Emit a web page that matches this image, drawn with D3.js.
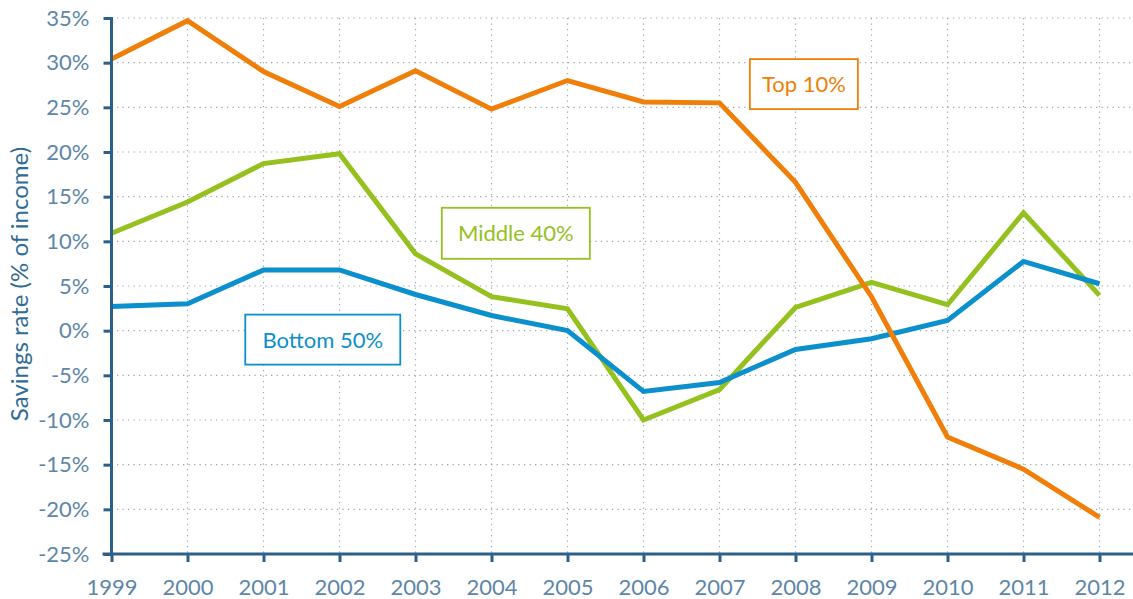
<!DOCTYPE html>
<html>
<head>
<meta charset="utf-8">
<script src="https://cdn.jsdelivr.net/npm/d3@7"></script>
<style>
  html, body { margin: 0; padding: 0; background: #fff; }
  svg { display: block; font-family: Lato, "Open Sans", sans-serif; }
</style>
</head>
<body>
<svg id="chart" width="1133" height="599"></svg>
<script>
// Savings rate by income group, 1999–2012 (% of income)
const years = [1999, 2000, 2001, 2002, 2003, 2004, 2005, 2006, 2007, 2008, 2009, 2010, 2011, 2012];
const top10 = [30.4, 34.7, 29.0, 25.1, 29.1, 24.8, 28.0, 25.6, 25.5, 16.6, 3.8, -11.9, -15.5, -20.9];
const middle40 = [10.9, 14.4, 18.7, 19.8, 8.6, 3.8, 2.45, -10.0, -6.6, 2.6, 5.4, 2.9, 13.2, 3.95];
const bottom50 = [2.7, 3.0, 6.8, 6.8, 4.05, 1.7, 0.0, -6.8, -5.8, -2.1, -0.9, 1.15, 7.75, 5.25];
const yTicks = [-25, -20, -15, -10, -5, 0, 5, 10, 15, 20, 25, 30, 35];

const series = [
  { name: "Middle 40%", values: middle40, color: "#95c11f", label: { x: 2004.32, y: 10.9, w: 148, h: 51 } },
  { name: "Bottom 50%", values: bottom50, color: "#0c8fcd", label: { x: 2001.78, y: -1.0, w: 155, h: 50 } },
  { name: "Top 10%", values: top10, color: "#f07f09", label: { x: 2008.11, y: 27.6, w: 108, h: 50 } }
];

const svg = d3.select("#chart");
const W = 1133;
const plotL = 111.5, plotR = 1099.5, plotT = 18, plotB = 554;

const x = d3.scaleLinear().domain([1999, 2012]).range([plotL, plotR]);
const y = d3.scaleLinear().domain([-25, 35]).range([plotB, plotT]);

const axisColor = "#2c6088";
const tickText = "#5d86a8";
const gridColor = "#9aabb8";

// grid
const grid = svg.append("g");
grid.selectAll("line.h").data(yTicks.filter(d => d !== -25)).join("line")
  .attr("class", "h")
  .attr("x1", plotL).attr("x2", W)
  .attr("y1", d => y(d)).attr("y2", d => y(d))
  .attr("stroke", gridColor).attr("stroke-width", 1.2).attr("stroke-dasharray", "1.3,4.2");
grid.selectAll("line.v").data(years.slice(1)).join("line")
  .attr("class", "v")
  .attr("x1", d => x(d)).attr("x2", d => x(d))
  .attr("y1", plotT).attr("y2", plotB)
  .attr("stroke", gridColor).attr("stroke-width", 1.2).attr("stroke-dasharray", "1.3,4.2");

// lines
const line = d3.line().x((d, i) => x(years[i])).y(d => y(d));
svg.append("g").selectAll("path").data(series).join("path")
  .attr("d", s => line(s.values))
  .attr("fill", "none")
  .attr("stroke", s => s.color)
  .attr("stroke-width", 5)
  .attr("stroke-linejoin", "miter")
  .attr("stroke-linecap", "butt");

// y axis
const yAxis = svg.append("g").attr("transform", `translate(${plotL},0)`)
  .call(d3.axisLeft(y).tickValues(yTicks).tickFormat(d => d + "%").tickSize(8).tickPadding(14));
yAxis.select(".domain").attr("stroke", axisColor).attr("stroke-width", 3)
  .attr("d", `M0,${plotT - 1}V${plotB}`);
yAxis.selectAll(".tick line").attr("stroke", axisColor).attr("stroke-width", 3);
yAxis.selectAll(".tick text").attr("fill", tickText).attr("font-size", 22)
  .attr("font-family", "Lato, sans-serif");

// x axis
const xAxis = svg.append("g").attr("transform", `translate(0,${plotB})`)
  .call(d3.axisBottom(x).tickValues(years).tickFormat(d3.format("d")).tickSize(8).tickPadding(17));
xAxis.select(".domain").attr("stroke", axisColor).attr("stroke-width", 3)
  .attr("d", `M${plotL - 9},0H${W}`);
xAxis.selectAll(".tick line").attr("stroke", axisColor).attr("stroke-width", 3);
xAxis.selectAll(".tick text").attr("fill", tickText).attr("font-size", 22)
  .attr("font-family", "Lato, sans-serif");

// y axis title
svg.append("text")
  .attr("transform", `translate(28,284) rotate(-90)`)
  .attr("text-anchor", "middle")
  .attr("fill", "#2e6c95")
  .attr("font-size", 24)
  .text("Savings rate (% of income)");

// series labels
const labels = svg.append("g").selectAll("g").data(series).join("g")
  .attr("transform", s => `translate(${x(s.label.x)},${y(s.label.y)})`);
labels.append("rect")
  .attr("x", s => -s.label.w / 2).attr("y", s => -s.label.h / 2)
  .attr("width", s => s.label.w).attr("height", s => s.label.h)
  .attr("fill", "#fff").attr("stroke", s => s.color).attr("stroke-width", 1.8);
labels.append("text")
  .attr("text-anchor", "middle").attr("dy", "0.36em")
  .attr("fill", s => s.color).attr("font-size", 22)
  .text(s => s.name);
</script>
</body>
</html>
